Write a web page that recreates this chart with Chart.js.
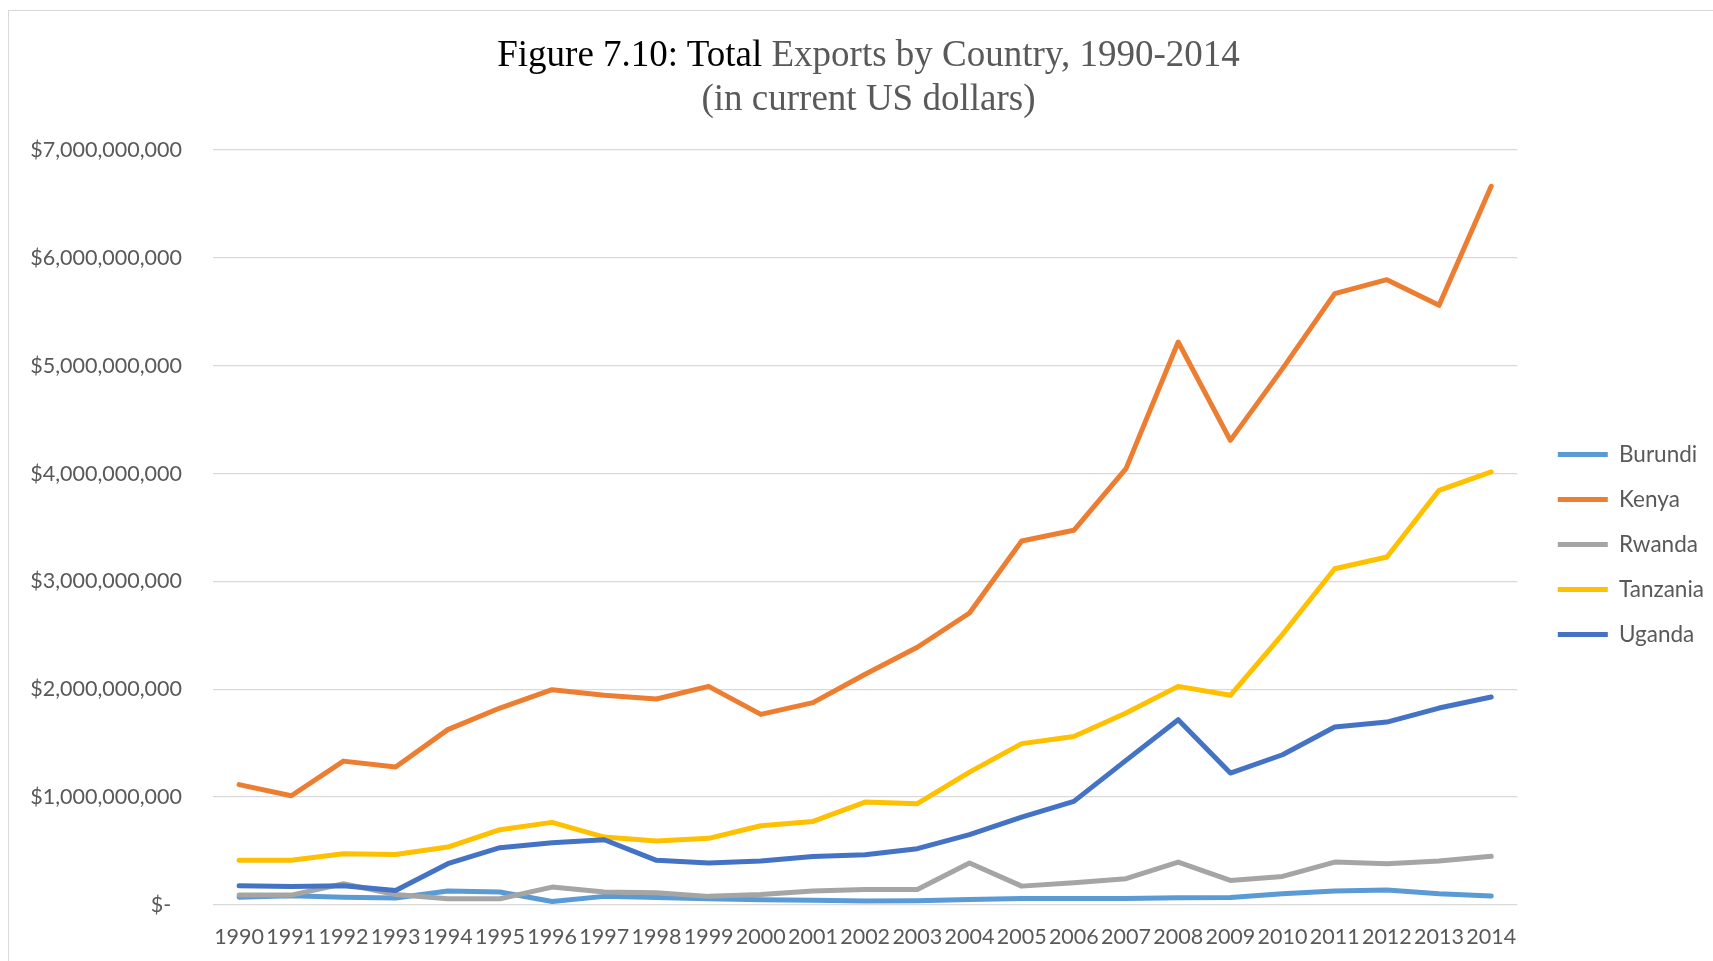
<!DOCTYPE html>
<html>
<head>
<meta charset="utf-8">
<script src="https://cdn.jsdelivr.net/npm/chart.js@4.4.1/dist/chart.umd.min.js"></script>
<style>
  body { margin: 0; background: #fff; overflow: hidden; }
  #frame { position: absolute; left: 8px; top: 10px; width: 1720px; height: 960px;
           border-left: 1px solid #d9d9d9; border-top: 1px solid #d9d9d9; }
  #wrap { position: absolute; left: 0; top: 0; width: 1713px; height: 961px; }
  #title { position: absolute; left: 0; top: 32px; width: 1737px; text-align: center;
           font-family: "Liberation Serif", "Times New Roman", serif; font-size: 37px;
           line-height: 44px; color: #595959; }
  #title .dark { color: #000; }
</style>
</head>
<body>
<div id="frame"></div>
<div id="wrap"><canvas id="exportsChart"></canvas></div>
<div id="title"><span class="dark">Figure 7.10: Total</span> Exports by Country, 1990-2014<br>(in current US dollars)</div>
<script>
const years = ["1990","1991","1992","1993","1994","1995","1996","1997","1998","1999","2000","2001","2002",
               "2003","2004","2005","2006","2007","2008","2009","2010","2011","2012","2013","2014"];

// values in billions of US dollars
const burundi = [0.073,0.086,0.073,0.064,0.129,0.120,0.033,0.080,0.070,0.058,0.049,0.043,0.037,
                 0.040,0.052,0.061,0.061,0.061,0.067,0.070,0.105,0.129,0.138,0.105,0.083];
const kenya = [1.116,1.013,1.334,1.279,1.626,1.826,1.996,1.944,1.910,2.027,1.767,1.876,2.140,
               2.390,2.707,3.375,3.474,4.046,5.220,4.308,4.973,5.668,5.798,5.560,6.664];
const rwanda = [0.092,0.092,0.197,0.098,0.058,0.058,0.166,0.120,0.114,0.080,0.098,0.129,0.144,
                0.144,0.389,0.175,0.207,0.244,0.398,0.228,0.265,0.398,0.383,0.407,0.451];
const tanzania = [0.414,0.414,0.476,0.469,0.537,0.698,0.766,0.630,0.593,0.618,0.735,0.775,0.954,
                  0.939,1.232,1.496,1.563,1.780,2.027,1.944,2.510,3.118,3.226,3.845,4.015];
const uganda = [0.179,0.172,0.179,0.135,0.383,0.531,0.578,0.605,0.414,0.389,0.407,0.450,0.466,
                0.522,0.652,0.815,0.961,1.341,1.718,1.223,1.393,1.650,1.696,1.826,1.928];

const yTicks = [0, 1e9, 2e9, 3e9, 4e9, 5e9, 6e9, 7e9];

const billions = arr => arr.map(v => v * 1e9);

function series(label, data, color, order) {
    return {
        label: label,
        data: billions(data),
        borderColor: color,
        backgroundColor: color,
        borderWidth: 5,
        borderCapStyle: "round",
        borderJoinStyle: "round",
        pointRadius: 0,
        tension: 0,
        order: order
    };
}

// nudge the legend into place beside the plot
const legendShift = {
    id: "legendShift",
    afterLayout(chart) {
        const lg = chart.legend;
        if (!lg) return;
        lg.left += 18; lg.right += 18;
        lg.top -= 5; lg.bottom -= 5;
    }
};

const tickFont = { family: "Lato", size: 21.5 };
const legendFont = { family: "Lato", size: 22.5 };

new Chart(document.getElementById("exportsChart"), {
    type: "line",
    data: {
        labels: years,
        datasets: [
            series("Burundi", burundi, "#5B9BD5", 5),
            series("Kenya", kenya, "#ED7D31", 4),
            series("Rwanda", rwanda, "#A5A5A5", 3),
            series("Tanzania", tanzania, "#FFC000", 2),
            series("Uganda", uganda, "#4472C4", 1)
        ]
    },
    options: {
        responsive: true,
        maintainAspectRatio: false,
        animation: false,
        layout: { padding: { left: 8, top: 150, right: 17, bottom: 12 } },
        plugins: {
            title: { display: false },
            tooltip: { enabled: false },
            legend: {
                position: "right",
                align: "center",
                labels: {
                    usePointStyle: true,
                    pointStyle: "line",
                    pointStyleWidth: 50,
                    padding: 22.5,
                    color: "#595959",
                    font: legendFont,
                    sort: (a, b) => a.datasetIndex - b.datasetIndex
                }
            }
        },
        scales: {
            x: {
                offset: true,
                afterFit: scale => { scale.height = 44; },
                grid: { display: false, drawTicks: false },
                border: { display: false },
                ticks: {
                    autoSkip: false,
                    maxRotation: 0,
                    padding: 19,
                    color: "#595959",
                    font: tickFont
                }
            },
            y: {
                min: 0,
                max: 7e9,
                afterFit: scale => { scale.width = 205; },
                afterBuildTicks: scale => { scale.ticks = yTicks.map(v => ({ value: v })); },
                grid: { color: "#d9d9d9", lineWidth: 1.3, drawTicks: false },
                border: { display: false },
                ticks: {
                    padding: 31,
                    color: "#595959",
                    font: tickFont,
                    callback: v => v === 0 ? "$-\u2002" : "$" + v.toLocaleString("en-US")
                }
            }
        }
    },
    plugins: [legendShift]
});
</script>
</body>
</html>
